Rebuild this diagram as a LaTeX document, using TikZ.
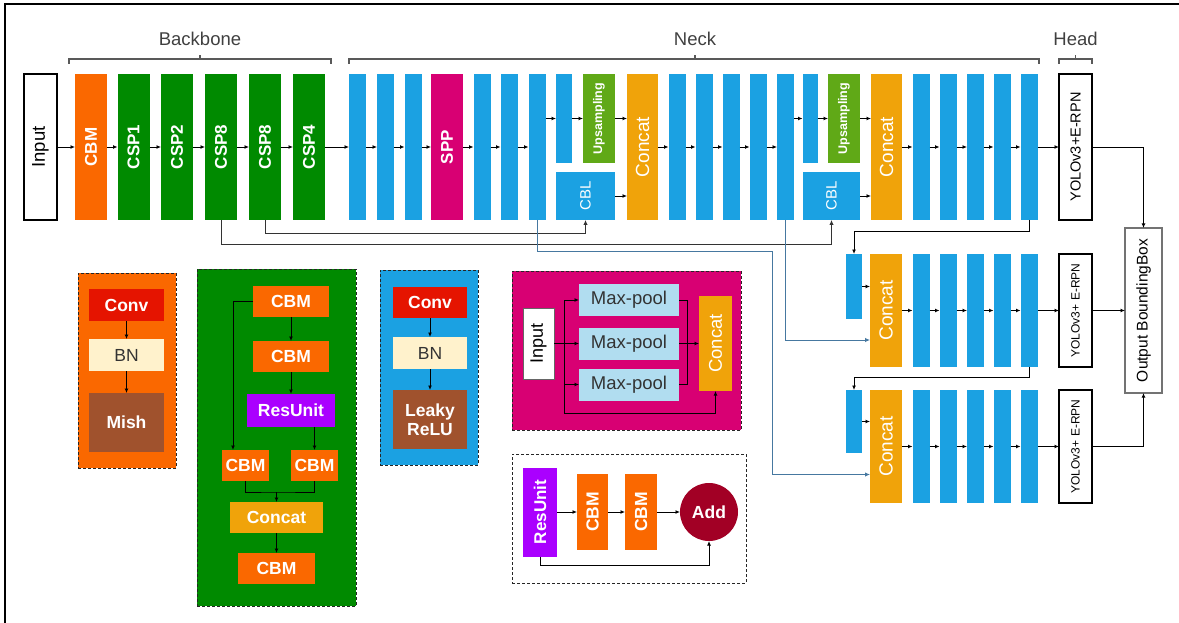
\documentclass[tikz,border=0pt]{standalone}
\usepackage{fontspec}
\setmainfont{Liberation Sans}
\usepackage{graphicx}
\usetikzlibrary{arrows.meta}
\newcommand{\fsz}[1]{\fontsize{#1}{#1}\selectfont}
\newcommand{\vt}[1]{\rotatebox{90}{#1}}
\definecolor{cbmorange}{RGB}{250,104,0}
\definecolor{cspgreen}{RGB}{0,138,0}
\definecolor{barblue}{RGB}{27,161,226}
\definecolor{sppmag}{RGB}{216,0,115}
\definecolor{upgreen}{RGB}{96,169,23}
\definecolor{catorange}{RGB}{240,163,10}
\definecolor{convred}{RGB}{229,20,0}
\definecolor{bncream}{RGB}{255,242,204}
\definecolor{actbrown}{RGB}{160,82,45}
\definecolor{respurple}{RGB}{170,0,255}
\definecolor{poolblue}{RGB}{177,221,240}
\definecolor{addred}{RGB}{162,0,37}
\definecolor{linkblue}{RGB}{70,120,160}

\begin{document}
\begin{tikzpicture}[x=1pt,y=-1pt,
  every node/.style={inner sep=0pt, outer sep=0pt},
  blk/.style={minimum width=32pt, text=white, font=\bfseries\fsz{17}},
  nbar/.style={fill=barblue, minimum width=17pt},
  rowa/.style={minimum height=146pt},
  rowb/.style={minimum height=113pt},
  yolo/.style={draw=black, line width=1.2pt, fill=white, minimum width=33pt},
  hdr/.style={font=\fsz{18.5}, text=black!75},
  brk/.style={draw=black!65, line width=1.3pt},
  link/.style={line width=0.9pt, -{Latex[length=4.5pt,width=4pt]}},
  plain/.style={line width=0.9pt},
  dlink/.style={draw=black!80, line width=0.9pt, -{Latex[length=5pt,width=4.5pt]}},
  bluelink/.style={draw=linkblue, line width=0.9pt, -{Latex[length=5pt,width=4.5pt]}},
  detail/.style={draw=black!85, line width=1pt, dash pattern=on 3pt off 2pt},
  inbox/.style={text=white, font=\bfseries\fsz{17.5}, align=center}]
\useasboundingbox (0,0) rectangle (1179,623);
\draw[line width=1.6pt] (5,623) -- (5,4) -- (1179,4);

% headers
\node[hdr] (lbb) at (200,39) {Backbone};
\node[hdr] (lneck) at (695,39) {Neck};
\node[hdr] (lhead) at (1075.5,39) {Head};
\draw[brk] (69,64) -- (69,59) -- (331,59) -- (331,64) (200,59) -- (200,55);
\draw[brk] (349,64) -- (349,59) -- (1039,59) -- (1039,64) (695,59) -- (695,55);
\draw[brk] (1059,64) -- (1059,59) -- (1092,59) -- (1092,64) (1075.5,59) -- (1075.5,55);

% backbone
\node[blk, rowa, draw=black, line width=1.2pt, fill=white, text=black, minimum width=33pt, font=\fsz{18.5}] (inp) at (40.5,147) {\vt{Input}};
\node[blk, rowa, fill=cbmorange] (cbm) at (91,147) {\vt{CBM}};
\node[blk, rowa, fill=cspgreen] (csp1) at (133.5,147) {\vt{CSP1}};
\node[blk, rowa, fill=cspgreen] (csp2) at (177,147) {\vt{CSP2}};
\node[blk, rowa, fill=cspgreen] (csp3) at (221,147) {\vt{CSP8}};
\node[blk, rowa, fill=cspgreen] (csp4) at (265,147) {\vt{CSP8}};
\node[blk, rowa, fill=cspgreen] (csp5) at (309,147) {\vt{CSP4}};

% neck, top row
\node[nbar, rowa] (n1) at (357.5,147) {};
\node[nbar, rowa] (n2) at (385.5,147) {};
\node[nbar, rowa] (n3) at (413,147) {};
\node[blk, rowa, fill=sppmag] (spp) at (447,147) {\vt{SPP}};
\node[nbar, rowa] (n4) at (482,147) {};
\node[nbar, rowa] (n5) at (509,147) {};
\node[nbar, rowa] (n6) at (537,147) {};
\node[nbar, minimum width=16pt, minimum height=89pt] (sb1) at (564,118.5) {};
\node[blk, fill=upgreen, minimum height=89pt, font=\bfseries\fsz{12.5}] (ups1) at (599,118.5) {\vt{Upsampling}};
\node[blk, fill=barblue, minimum width=59pt, minimum height=48pt, font=\fsz{15}] (cbl1) at (585.5,196) {\vt{CBL}};
\node[blk, rowa, fill=catorange, minimum width=31pt, font=\fsz{19}] (cat1) at (642.5,147) {\vt{Concat}};
\node[nbar, rowa] (n7) at (677,147) {};
\node[nbar, rowa] (n8) at (704,147) {};
\node[nbar, rowa] (n9) at (731,147) {};
\node[nbar, rowa] (n10) at (758,147) {};
\node[nbar, rowa] (n11) at (785.5,147) {};
\node[nbar, minimum width=15pt, minimum height=89pt] (sb2) at (810,118.5) {};
\node[blk, fill=upgreen, minimum height=89pt, font=\bfseries\fsz{12.5}] (ups2) at (844,118.5) {\vt{Upsampling}};
\node[blk, fill=barblue, minimum width=57pt, minimum height=48pt, font=\fsz{15}] (cbl2) at (831.5,196) {\vt{CBL}};
\node[blk, rowa, fill=catorange, minimum width=31pt, font=\fsz{19}] (cat2) at (886.5,147) {\vt{Concat}};
\node[nbar, rowa] (n12) at (921,147) {};
\node[nbar, rowa] (n13) at (948,147) {};
\node[nbar, rowa] (n14) at (975.5,147) {};
\node[nbar, rowa] (n15) at (1002,147) {};
\node[nbar, rowa] (n16) at (1029,147) {};
\node[yolo, rowa, font=\fsz{14.5}] (yolo1) at (1075.5,147) {\vt{YOLOv3+E-RPN}};

% neck, second and third rows
\node[nbar, minimum width=16pt, minimum height=65pt] (r2s) at (854,286.5) {};
\node[blk, rowb, fill=catorange, font=\fsz{19}] (r2c) at (886,310.5) {\vt{Concat}};
\node[nbar, rowb] (r2a) at (921,310.5) {};
\node[nbar, rowb] (r2b) at (948,310.5) {};
\node[nbar, rowb] (r2d) at (975.5,310.5) {};
\node[nbar, rowb] (r2e) at (1002,310.5) {};
\node[nbar, rowb] (r2f) at (1029,310.5) {};
\node[yolo, rowb, font=\fsz{12}] (yolo2) at (1075.5,310.5) {\vt{YOLOv3+ E-RPN}};
\node[nbar, minimum width=16pt, minimum height=63pt] (r3s) at (854,421.5) {};
\node[blk, rowb, fill=catorange, font=\fsz{19}] (r3c) at (886,446.5) {\vt{Concat}};
\node[nbar, rowb] (r3a) at (921,446.5) {};
\node[nbar, rowb] (r3b) at (948,446.5) {};
\node[nbar, rowb] (r3d) at (975.5,446.5) {};
\node[nbar, rowb] (r3e) at (1002,446.5) {};
\node[nbar, rowb] (r3f) at (1029,446.5) {};
\node[yolo, rowb, font=\fsz{12}] (yolo3) at (1075.5,446.5) {\vt{YOLOv3+ E-RPN}};
\node[draw=black!55, line width=1.8pt, fill=white, minimum width=37pt, minimum height=165pt, font=\fsz{15.5}] (out) at (1143.5,310.5) {\vt{Output BoundingBox}};

% main connectors
\foreach \a/\b in {inp/cbm,cbm/csp1,csp1/csp2,csp2/csp3,csp3/csp4,csp4/csp5,csp5/n1,n1/n2,n2/n3,n3/spp,spp/n4,n4/n5,n5/n6,
  sb1/ups1,cat1/n7,n7/n8,n8/n9,n9/n10,n10/n11,sb2/ups2,cat2/n12,n12/n13,n13/n14,n14/n15,n15/n16,n16/yolo1,
  r2c/r2a,r2a/r2b,r2b/r2d,r2d/r2e,r2e/r2f,r2f/yolo2,yolo2/out,r3c/r3a,r3a/r3b,r3b/r3d,r3d/r3e,r3e/r3f,r3f/yolo3}
  \draw[link] (\a) -- (\b);
\draw[link] (n6.east |- sb1) -- (sb1.west);
\draw[link] (ups1.east) -- (ups1.east -| cat1.west);
\draw[link] (cbl1.east) -- (cbl1.east -| cat1.west);
\draw[link] (n11.east |- sb2) -- (sb2.west);
\draw[link] (ups2.east) -- (ups2.east -| cat2.west);
\draw[link] (cbl2.east) -- (cbl2.east -| cat2.west);
\draw[link] (r2s.east) -- (r2s.east -| r2c.west);
\draw[link] (r3s.east) -- (r3s.east -| r3c.west);
\draw[link] (yolo1) -| (out.north);
\draw[link] (yolo3) -| (out.south);
\draw[link] (n16.south) -- ++(0,11) -| (r2s.north);
\draw[link] (r2f.south) -- ++(0,10) -| (r3s.north);
\draw[dlink] (csp4.south) -- ++(0,13) -| (cbl1.south);
\draw[dlink] (csp3.south) -- ++(0,24) -| (cbl2.south);
\coordinate (bend1) at (772,251);
\draw[bluelink] (n6.south) |- (bend1) |- ([yshift=-28pt]r3c.west);
\draw[bluelink] (n11.south) |- ([yshift=-29.5pt]r2c.west);

% CBM detail
\node[detail, fill=cbmorange, minimum width=98pt, minimum height=195pt] (cbmbox) at (127,370.5) {};
\node[inbox, fill=convred, minimum width=75pt, minimum height=32pt] (dconv1) at (126.5,305) {Conv};
\node[inbox, fill=bncream, text=black!80, font=\fsz{17.5}, minimum width=75pt, minimum height=32pt] (dbn1) at (126.5,355) {BN};
\node[inbox, fill=actbrown, minimum width=75pt, minimum height=59pt] (dmish) at (126.5,422.5) {Mish};
\draw[link] (dconv1) -- (dbn1);
\draw[link] (dbn1) -- (dmish);

% CSP detail
\node[detail, fill=cspgreen, minimum width=159pt, minimum height=337pt] (cspbox) at (276.5,437.5) {};
\node[inbox, fill=cbmorange, minimum width=76pt, minimum height=31pt] (dcbm1) at (291,301.5) {CBM};
\node[inbox, fill=cbmorange, minimum width=76pt, minimum height=31pt] (dcbm2) at (291,356.5) {CBM};
\node[inbox, fill=respurple, minimum width=88pt, minimum height=33pt] (dres) at (291,410.5) {ResUnit};
\node[inbox, fill=cbmorange, minimum width=47pt, minimum height=31pt] (dcbml) at (245.5,465.5) {CBM};
\node[inbox, fill=cbmorange, minimum width=47pt, minimum height=31pt] (dcbmr) at (314.5,465.5) {CBM};
\node[inbox, fill=catorange, minimum width=93pt, minimum height=31pt] (dcat) at (276.5,517.5) {Concat};
\node[inbox, fill=cbmorange, minimum width=77pt, minimum height=31pt] (dcbmb) at (276.5,568.5) {CBM};
\draw[link] (dcbm1.west) -| ([xshift=-12.5pt]dcbml.north);
\draw[link] (dcbm1) -- (dcbm2);
\draw[link] (dcbm2) -- (dres);
\draw[link] (dres.south -| dcbmr) -- (dcbmr.north);
\coordinate (cspj) at (276.5,492);
\draw[plain] (dcbml.south) |- (cspj) -| (dcbmr.south);
\draw[link] (cspj) -- (dcat.north);
\draw[link] (dcat) -- (dcbmb);

% CBL detail
\node[detail, fill=barblue, minimum width=98pt, minimum height=195pt] (cblbox) at (429,367.5) {};
\node[inbox, fill=convred, minimum width=74pt, minimum height=31pt] (dconv2) at (430,302.5) {Conv};
\node[inbox, fill=bncream, text=black!80, font=\fsz{17.5}, minimum width=74pt, minimum height=32pt] (dbn2) at (430,353) {BN};
\node[inbox, fill=actbrown, minimum width=74pt, minimum height=59pt] (dleaky) at (430,419.5) {Leaky\\[2pt]ReLU};
\draw[link] (dconv2) -- (dbn2);
\draw[link] (dbn2) -- (dleaky);

% SPP detail
\node[detail, fill=sppmag, minimum width=229pt, minimum height=159pt] (sppbox) at (626.5,350.5) {};
\node[draw=black!60, fill=white, minimum width=31pt, minimum height=71pt, font=\fsz{18}] (sin) at (538.5,343.5) {\vt{Input}};
\node[fill=poolblue, text=black!80, minimum width=100pt, minimum height=32pt, font=\fsz{18.5}] (mp1) at (629,300) {Max-pool};
\node[fill=poolblue, text=black!80, minimum width=100pt, minimum height=32pt, font=\fsz{18.5}] (mp2) at (629,343.5) {Max-pool};
\node[fill=poolblue, text=black!80, minimum width=100pt, minimum height=32pt, font=\fsz{18.5}] (mp3) at (629,384.5) {Max-pool};
\node[blk, fill=catorange, minimum width=33pt, minimum height=95pt, font=\fsz{18.5}] (scat) at (715.5,343.5) {\vt{Concat}};
\coordinate (sppj) at (564,343.5);
\coordinate (sppb) at (564,413);
\coordinate (sppm) at (687,343.5);
\draw[plain] (sin) -- (sppj);
\draw[link] (sppj |- mp1) -- (mp1);
\draw[link] (sppj) -- (mp2);
\draw[link] (sppj |- mp3) -- (mp3);
\draw[link] (sppj |- mp1) -- (sppb) -| (scat.south);
\draw[plain] (mp1.east) -- (mp1.east -| sppm) -- (mp3.east -| sppm) -- (mp3.east);
\draw[link] (mp2) -- (scat);

% ResUnit detail
\node[detail, fill=white, minimum width=234pt, minimum height=129pt] (resbox) at (629,518.5) {};
\node[inbox, fill=respurple, minimum width=34pt, minimum height=89pt, font=\bfseries\fsz{17}] (dru) at (540,512) {\vt{ResUnit}};
\node[inbox, fill=cbmorange, minimum width=31pt, minimum height=76pt] (drc1) at (592.5,512) {\vt{CBM}};
\node[inbox, fill=cbmorange, minimum width=32pt, minimum height=76pt] (drc2) at (641,512) {\vt{CBM}};
\node[inbox, circle, fill=addred, minimum size=58pt] (dadd) at (709,512) {Add};
\draw[link] (dru) -- (drc1);
\draw[link] (drc1) -- (drc2);
\draw[link] (drc2) -- (dadd);
\draw[link] (dru.south) -- ++(0,9) -| (dadd.south);
\end{tikzpicture}
\end{document}
